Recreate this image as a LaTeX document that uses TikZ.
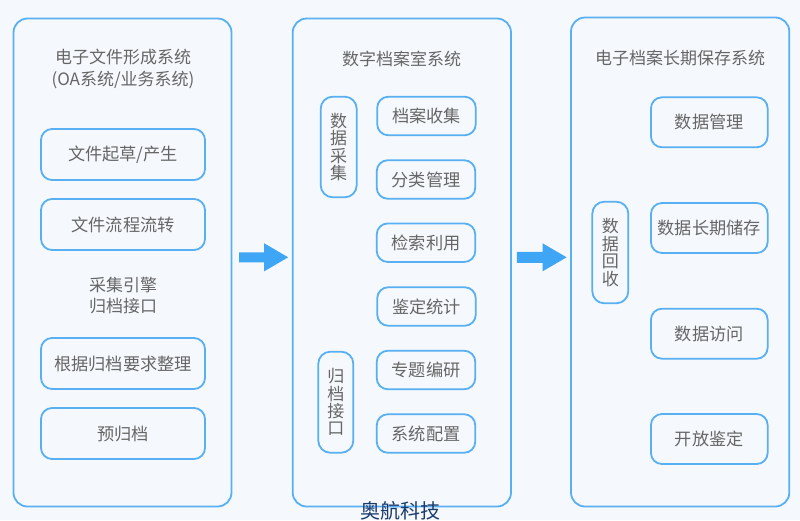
\documentclass[tikz,border=0pt]{standalone}
\usepackage{fontspec}
\setmainfont{Noto Sans CJK SC}
\usetikzlibrary{calc}
\definecolor{bgc}{HTML}{F5F9FD}
\definecolor{bordc}{HTML}{58B0F2}
\definecolor{arrc}{HTML}{3FA6F5}
\definecolor{txtc}{HTML}{666666}
\definecolor{navyc}{HTML}{1B3A6C}
\tikzset{
  outerbox/.style={draw=bordc, line width=1.8pt, rounded corners=14pt, inner sep=0pt, fill=bgc},
  innerbox/.style={draw=bordc, line width=1.8pt, rounded corners=11pt, inner sep=0pt, text=txtc, align=center, font=\fontsize{17.2}{20}\selectfont},
  pillbox/.style={draw=bordc, line width=1.8pt, rounded corners=12pt, inner sep=0pt, text=txtc, align=center, font=\fontsize{17}{17.4}\selectfont},
  titletxt/.style={text=txtc, align=center, inner sep=0pt, font=\fontsize{17}{21.5}\selectfont},
  bigarrow/.style={fill=arrc},
}
\begin{document}
\begin{tikzpicture}[x=1pt,y=-1pt]
\fill[bgc] (0,0) rectangle (800,520);
\useasboundingbox (0,0) rectangle (800,520);
% outer boxes
\node[outerbox, minimum width=218pt, minimum height=488pt] (L) at (122.5,262.5) {};
\node[outerbox, minimum width=218.3pt, minimum height=488pt] (M) at (401.85,262.5) {};
\node[outerbox, minimum width=218.3pt, minimum height=489pt] (R) at (680.15,262) {};
% titles
\node[titletxt] (Lt) at (123,69) {电子文件形成系统\\(OA系统/业务系统)};
\node[titletxt] (Mt) at (401.5,58.5) {数字档案室系统};
\node[titletxt] (Rt) at (680,58.5) {电子档案长期保存系统};
% left column
\node[innerbox, minimum width=164pt, minimum height=51pt] (l1) at (123,154.5) {文件起草/产生};
\node[innerbox, minimum width=164pt, minimum height=51pt] (l2) at (123,224.5) {文件流程流转};
\node[titletxt] (lm) at (123,295.5) {采集引擎\\归档接口};
\node[innerbox, minimum width=164pt, minimum height=51pt] (l3) at (123,363.5) {根据归档要求整理};
\node[innerbox, minimum width=164pt, minimum height=51pt] (l4) at (123,433.5) {预归档};
% middle column
\node[pillbox, minimum width=36pt, minimum height=100.6pt] (mp1) at (338.7,147) {数\\据\\采\\集};
\node[pillbox, minimum width=35pt, minimum height=101pt] (mp2) at (335.8,402.2) {归\\档\\接\\口};
\node[innerbox, minimum width=98.5pt, minimum height=38.5pt] (m1) at (426.5,116) {档案收集};
\node[innerbox, minimum width=98.5pt, minimum height=38.5pt] (m2) at (426,179.5) {分类管理};
\node[innerbox, minimum width=98.5pt, minimum height=38.5pt] (m3) at (426,242.7) {检索利用};
\node[innerbox, minimum width=98.5pt, minimum height=38.5pt] (m4) at (426.5,306.5) {鉴定统计};
\node[innerbox, minimum width=98.5pt, minimum height=38.5pt] (m5) at (426,370) {专题编研};
\node[innerbox, minimum width=98.5pt, minimum height=38.5pt] (m6) at (426,433.5) {系统配置};
% right column
\node[pillbox, minimum width=36pt, minimum height=101.6pt] (rp) at (610.3,252.5) {数\\据\\回\\收};
\node[innerbox, minimum width=116.7pt, minimum height=50pt] (r1) at (709.3,122.3) {数据管理};
\node[innerbox, minimum width=116.7pt, minimum height=50pt] (r2) at (709.3,228) {数据长期储存};
\node[innerbox, minimum width=116.7pt, minimum height=50pt] (r3) at (709.3,333.7) {数据访问};
\node[innerbox, minimum width=116.7pt, minimum height=50pt] (r4) at (709.3,439) {开放鉴定};
% arrows
\coordinate (a1) at ([shift={(6.8,-5.2)}]L.east);
\coordinate (a2) at ([shift={(5,-5.2)}]M.east);
\fill[bigarrow] (a1) ++(0,-5) -- ++(25,0) -- ++(0,-9) -- ++(24,14) -- ++(-24,14) -- ++(0,-9) -- ++(-25,0) -- cycle;
\fill[bigarrow] (a2) ++(0,-5.5) -- ++(25.7,0) -- ++(0,-8.5) -- ++(24,14) -- ++(-24,14) -- ++(0,-8.5) -- ++(-25.7,0) -- cycle;
% footer
\node[text=navyc, inner sep=0pt, font=\fontsize{20}{24}\selectfont] (ft) at (400,510.5) {奥航科技};
\end{tikzpicture}
\end{document}
